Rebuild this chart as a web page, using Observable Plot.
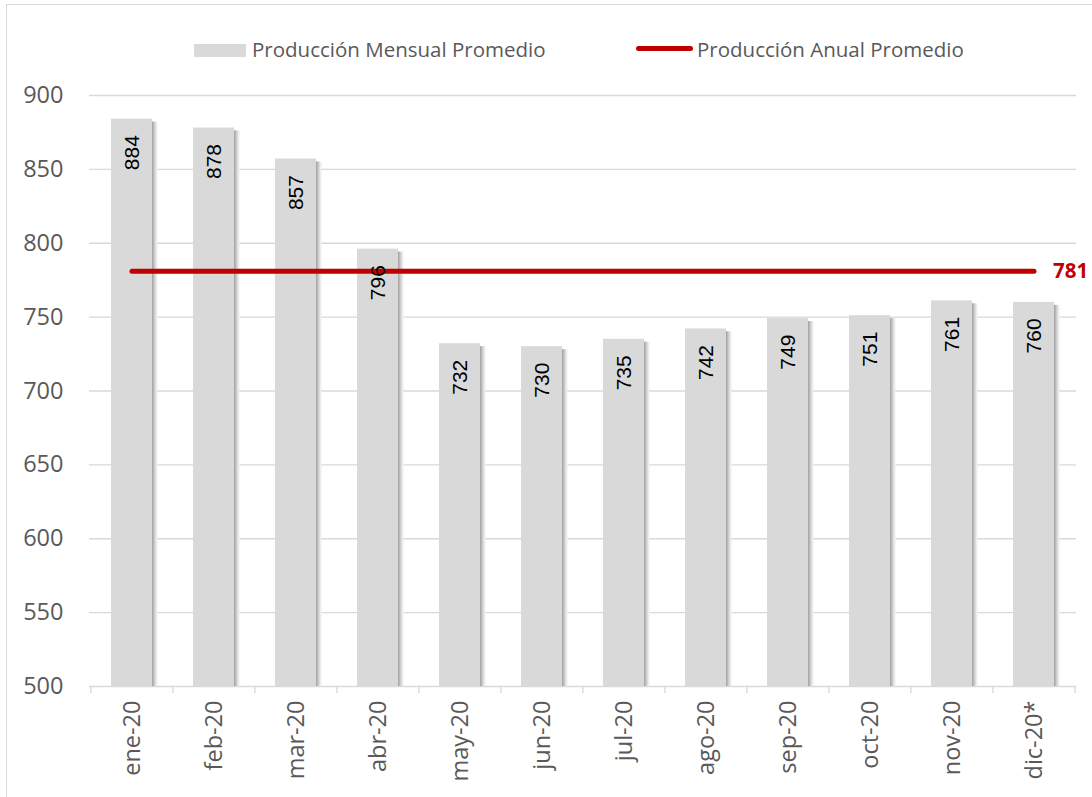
<!DOCTYPE html>
<html>
<head>
<meta charset="utf-8">
<script src="https://cdn.jsdelivr.net/npm/d3@7"></script>
<script src="https://cdn.jsdelivr.net/npm/@observablehq/plot@0.6"></script>
<style>
  html, body { margin: 0; padding: 0; background: #fff; overflow: hidden; }
  #wrap { position: relative; width: 1092px; height: 797px; overflow: hidden; }
  #frame { position: absolute; left: 6px; top: 4px; width: 1200px; height: 900px; border: 1.5px solid #d9d9d9; }
  #chart { position: absolute; left: 0; top: 0; }
  .lg { position: absolute; font-family: "Open Sans", sans-serif; font-size: 20.5px; line-height: 20px; color: #595959; white-space: nowrap; }
  .sw { position: absolute; }
</style>
</head>
<body>
<div id="wrap">
  <div id="frame"></div>
  <div id="chart"></div>
  <div class="sw" style="left:194px;top:44px;width:52px;height:13px;background:#d9d9d9;"></div>
  <div class="lg" style="left:252px;top:39px;">Producción Mensual Promedio</div>
  <div class="sw" style="left:636px;top:46px;width:57px;height:5px;background:#c00000;border-radius:2.5px;"></div>
  <div class="lg" style="left:697px;top:39px;">Producción Anual Promedio</div>
</div>
<script>
const months = ["ene-20","feb-20","mar-20","abr-20","may-20","jun-20","jul-20","ago-20","sep-20","oct-20","nov-20","dic-20*"];
const values = [884, 878, 857, 796, 732, 730, 735, 742, 749, 751, 761, 760];
const annualAverage = 781;
const yTicks = [500, 550, 600, 650, 700, 750, 800, 850, 900];

const data = months.map((m, i) => ({month: m, value: values[i]}));
const avgLine = [{month: months[0], value: annualAverage}, {month: months[months.length - 1], value: annualAverage}];

const W = 1092, H = 797, mL = 89, mR = 16, mT = 95, mB = 111;
const halfBand = (W - mL - mR) / months.length / 2;

const chart = Plot.plot({
  width: W,
  height: H,
  marginLeft: mL,
  marginRight: mR,
  marginTop: mT,
  marginBottom: mB,
  style: {background: "transparent", overflow: "visible"},
  x: {domain: months, paddingInner: 0.5, paddingOuter: 0.25, align: 0.5, label: null},
  y: {domain: [500, 900], label: null},
  marks: [
    Plot.ruleY(yTicks, {stroke: "#d9d9d9", strokeWidth: 1.3}),
    Plot.axisY({ticks: yTicks, tickSize: 0, tickPadding: 26, fontSize: 23.5, fill: "#595959", fontFamily: "Open Sans", label: null}),
    Plot.axisX({tickSize: 7, text: null, dx: -halfBand, stroke: "#d9d9d9", strokeWidth: 1.3, label: null}),
    Plot.axisX({ticks: [months[months.length - 1]], tickSize: 7, text: null, dx: halfBand, stroke: "#d9d9d9", strokeWidth: 1.3, label: null}),
    Plot.axisX({tickSize: 0, tickPadding: 14, tickRotate: -90, fontSize: 23.5, fill: "#595959", fontFamily: "Open Sans", label: null}),
    Plot.barY(data, {x: "month", y1: 500, y2: "value", fill: "#ededed", dx: 5.5, dy: 3, clip: true}),
    Plot.barY(data, {x: "month", y1: 500, y2: "value", fill: "#cccccc", dx: 3.5, dy: 3, clip: true}),
    Plot.barY(data, {x: "month", y1: 500, y2: "value", fill: "#a8a8a8", dx: 1.5, dy: 3, clip: true}),
    Plot.barY(data, {x: "month", y1: 500, y2: "value", fill: "#d9d9d9"}),
    Plot.line(avgLine, {x: "month", y: "value", stroke: "#c00000", strokeWidth: 5, strokeLinecap: "round"}),
    Plot.text(data, {x: "month", y: "value", text: d => String(d.value), rotate: -90, textAnchor: "end", lineAnchor: "middle", dy: 16, fontSize: 21, fontFamily: "Liberation Sans, Arial, sans-serif", fill: "#000"}),
    Plot.text([avgLine[1]], {x: "month", y: "value", text: d => String(d.value), textAnchor: "start", dx: 19, fontSize: 20.5, fontWeight: "bold", fontFamily: "Open Sans", fill: "#c00000"})
  ]
});
document.getElementById("chart").appendChild(chart);
</script>
</body>
</html>
